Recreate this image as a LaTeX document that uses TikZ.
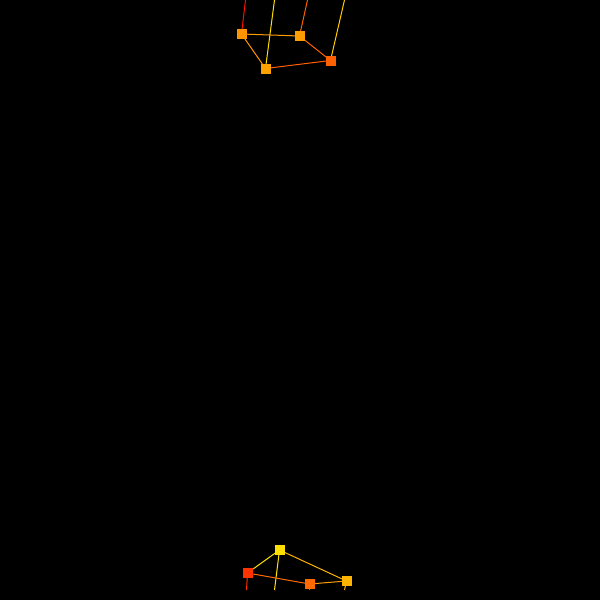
\documentclass[tikz,border=0pt]{standalone}
\begin{document}
\begin{tikzpicture}[x=1pt,y=-1pt,
  sq/.style={fill=#1,draw=none,minimum size=10pt,inner sep=0pt,outer sep=0pt,shape=rectangle},
  ln/.style={draw=#1,line width=1pt}]
\fill[black] (0,0) rectangle (600,600);
\useasboundingbox (0,0) rectangle (600,600);
\definecolor{cA}{HTML}{FF9400}
\definecolor{cB}{HTML}{FF9C00}
\definecolor{cC}{HTML}{FFA200}
\definecolor{cD}{HTML}{FF6000}
\definecolor{cE}{HTML}{FFE000}
\definecolor{cF}{HTML}{FF3300}
\definecolor{cG}{HTML}{FF6A00}
\definecolor{cH}{HTML}{FFB400}
% top free ends
\coordinate (ta) at (245.5,0);
\coordinate (tc) at (274.5,0);
\coordinate (tb) at (307.5,0);
\coordinate (td) at (344.5,0);
% bottom free ends
\coordinate (bf) at (246.5,590);
\coordinate (be) at (274.5,590);
\coordinate (bg) at (309.5,590);
\coordinate (bh) at (344.5,590);
% node positions
\coordinate (pA) at (241.5,34);
\coordinate (pB) at (299.5,36);
\coordinate (pC) at (265.5,68.5);
\coordinate (pD) at (330.5,60.5);
\coordinate (pE) at (279.5,550);
\coordinate (pF) at (247.5,573);
\coordinate (pG) at (309.5,584);
\coordinate (pH) at (346.5,581);
% lines
\draw[ln=red!90!orange] (ta) -- (pA);
\draw[ln=cE] (tc) -- (pC);
\draw[ln=cD] (tb) -- (pB);
\draw[ln=cE!80!orange] (td) -- (pD);
\draw[ln=cB] (pA) -- (pB);
\draw[ln=cA] (pA) -- (pC);
\draw[ln=cD] (pB) -- (pD);
\draw[ln=cD] (pC) -- (pD);
\draw[ln=cF] (pF) -- (bf);
\draw[ln=cE] (pE) -- (be);
\draw[ln=cG] (pG) -- (bg);
\draw[ln=cH] (pH) -- (bh);
\draw[ln=cE] (pE) -- (pF);
\draw[ln=cH] (pE) -- (pH);
\draw[ln=cG] (pF) -- (pG);
\draw[ln=cH!70!cG] (pG) -- (pH);
% nodes
\node[sq=cA] (A) at (pA) {};
\node[sq=cB] (B) at (pB) {};
\node[sq=cC] (C) at (pC) {};
\node[sq=cD] (D) at (pD) {};
\node[sq=cE] (E) at (pE) {};
\node[sq=cF] (F) at (pF) {};
\node[sq=cG] (G) at (pG) {};
\node[sq=cH] (H) at (pH) {};
\end{tikzpicture}
\end{document}
